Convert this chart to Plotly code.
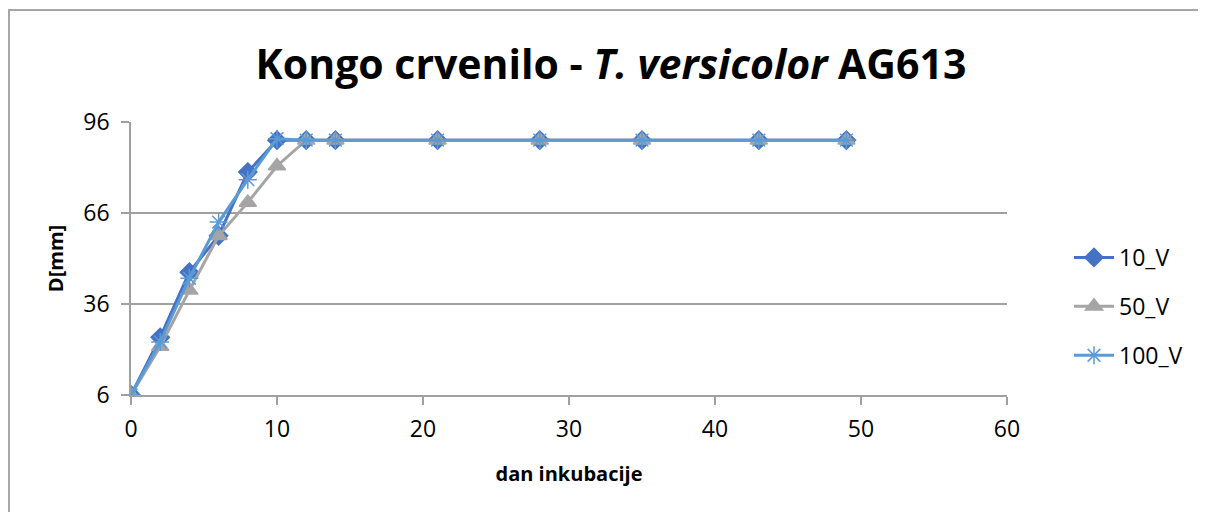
import plotly.graph_objects as go

days = [0, 2, 4, 6, 8, 10, 12, 14, 21, 28, 35, 43, 49]
v10 = [6, 25, 46.5, 58.5, 79.5, 90, 90, 90, 90, 90, 90, 90, 90]
v50 = [6, 22, 40.5, 58.5, 69.5, 81.5, 90, 90, 90, 90, 90, 90, 90]
v100 = [6, 23.5, 44.5, 63, 77, 90.5, 90, 90, 90, 90, 90, 90, 90]

series = [
    ("10_V", v10, "#4472C4", "diamond", 14, 1),
    ("50_V", v50, "#A5A5A5", "triangle-up", 15, 2),
    ("100_V", v100, "#5B9BD5", "asterisk-open", 15, 3),
]

FONT = "Open Sans"
OFF = 8  # page body margin
fig = go.Figure()
for name, vals, color, sym, size, g in series:
    fig.add_trace(go.Scatter(
        x=days, y=vals, name=name, mode="lines+markers",
        line=dict(color=color, width=3),
        marker=dict(symbol=sym, size=size, color=color,
                    line=dict(color=color, width=1.5)),
        legendgroup=str(g),
    ))

W, H = 1206 - OFF, 512 - OFF
L, R, T, B = 131 - OFF, 1007 - OFF, 122 - OFF, 395 - OFF
pw, ph = R - L, B - T

fig.update_layout(
    width=W, height=H,
    margin=dict(l=L, r=W - R, t=T, b=H - B, pad=0),
    plot_bgcolor="white", paper_bgcolor="white",
    font=dict(family=FONT, color="black", size=23),
    title=dict(
        text="<b>Kongo crvenilo - <i>T. versicolor</i> AG613</b>",
        x=(611 - OFF) / W, xanchor="center", y=1 - (65 - OFF) / H, yanchor="middle",
        font=dict(family=FONT, size=41, color="black"),
    ),
    xaxis=dict(
        range=[0, 60], dtick=10, tick0=0, showgrid=False,
        showline=True, linecolor="#A0A0A0", linewidth=1.5,
        ticks="outside", ticklen=8, tickcolor="#A0A0A0", tickwidth=1.5,
        tickfont=dict(size=23, family=FONT), ticklabelstandoff=5,
        title=dict(text="<b>dan inkubacije</b>", font=dict(size=20, family=FONT), standoff=24),
        zeroline=False,
    ),
    yaxis=dict(
        range=[6, 96], dtick=30, tick0=6, showgrid=True, gridcolor="#A0A0A0", gridwidth=1.5,
        showline=True, linecolor="#A0A0A0", linewidth=1.5,
        ticks="outside", ticklen=8, tickcolor="#A0A0A0", tickwidth=1.5,
        tickfont=dict(size=23, family=FONT), ticklabelstandoff=7,
        title=dict(text="<b>D[mm]</b>", font=dict(size=20, family=FONT), standoff=14),
        zeroline=False,
    ),
    legend=dict(
        x=(1061 - L) / pw, xanchor="left", y=(B - (238 - OFF - 2)) / ph, yanchor="top",
        font=dict(size=23, family=FONT), tracegroupgap=16,
        bgcolor="rgba(0,0,0,0)", itemwidth=40,
    ),
    shapes=[
        dict(type="line", xref="paper", yref="paper",
             x0=(0 - L) / pw, x1=(W + 5 - L) / pw, y0=(B - (10 - OFF)) / ph, y1=(B - (10 - OFF)) / ph,
             line=dict(color="#A6A6A6", width=2)),
        dict(type="line", xref="paper", yref="paper",
             x0=(1 - L) / pw, x1=(1 - L) / pw, y0=(B - (10 - OFF)) / ph, y1=(B - H - 5) / ph,
             line=dict(color="#A6A6A6", width=2)),
    ],
)

fig.write_html("out.html")
